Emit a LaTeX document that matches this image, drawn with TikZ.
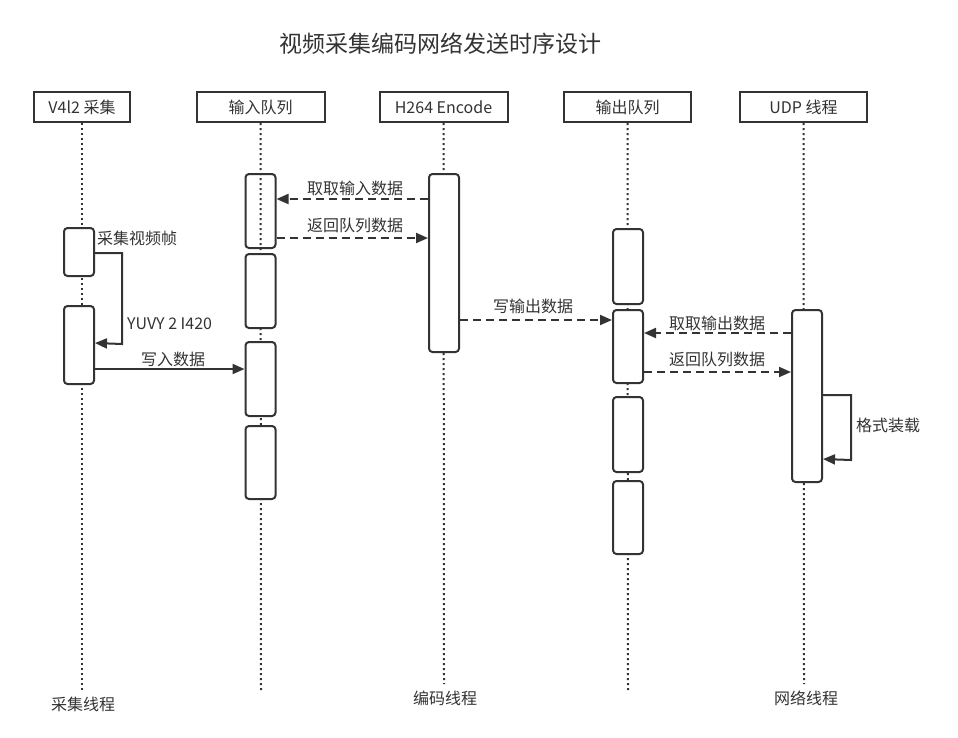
\documentclass[tikz,border=0pt]{standalone}
\usepackage{fontspec}
\setmainfont{Noto Sans CJK SC}
\usetikzlibrary{arrows.meta}
\definecolor{ink}{HTML}{333333}
\begin{document}
\begin{tikzpicture}[x=1pt,y=-1pt,
  every node/.style={text=ink,font=\fontsize{16}{18}\selectfont},
  head/.style={draw=ink,line width=2pt,minimum width=128pt,minimum height=30pt,inner sep=0pt,fill=white},
  act/.style={draw=ink,line width=2pt,rounded corners=3.5pt,minimum width=30pt,inner sep=0pt,fill=white},
  life/.style={draw=ink,line width=2pt,dash pattern=on 2pt off 3pt},
  msg/.style={draw=ink,line width=2pt,-{Triangle[length=12pt,width=10pt]}},
  dmsg/.style={msg,dash pattern=on 8pt off 5pt},
  lbl/.style={inner sep=0pt}]
\useasboundingbox (0,0) rectangle (958,737);
% title
\node[lbl,font=\fontsize{23}{26}\selectfont] (title) at (440,44) {视频采集编码网络发送时序设计};
% lifelines
\coordinate (e1) at (82,690);
\coordinate (e2) at (261,692);
\coordinate (e3) at (444,684);
\coordinate (e4) at (628,692);
\coordinate (e5) at (804,684);
% headers
\node[head,minimum width=96pt] (h1) at (82,107) {V4l2 采集};
\node[head] (h2) at (260.5,107) {输入队列};
\node[head] (h3) at (443.5,107) {H264 Encode};
\node[head,minimum width=127pt] (h4) at (627.5,107) {输出队列};
\node[head,minimum width=127pt] (h5) at (803.5,107) {UDP 线程};
\draw[life] (h1.south) -- (e1);
\draw[life] (h2.south) -- (e2);
\draw[life] (h3.south) -- (e3);
\draw[life] (h4.south) -- (e4);
\draw[life] (h5.south) -- (e5);
% activation boxes
\node[act,minimum height=48pt] (A1) at (79,252) {};
\node[act,minimum height=78pt] (A2) at (79,345) {};
\node[act,minimum height=74pt,fill=none] (B1) at (260.5,211) {};
\node[act,minimum height=74pt] (B2) at (260.5,291) {};
\node[act,minimum height=74pt] (B3) at (260.5,379) {};
\node[act,minimum height=73pt] (B4) at (260.5,462.5) {};
\node[act,minimum height=178pt] (C1) at (444,263) {};
\node[act,minimum height=75pt] (D1) at (628,266.5) {};
\node[act,minimum height=73pt] (D2) at (628,346.5) {};
\node[act,minimum height=75pt] (D3) at (628,434.5) {};
\node[act,minimum height=73pt] (D4) at (628,517.5) {};
\node[act,minimum height=172pt] (E1) at (807,396) {};
% messages
\draw[dmsg] ([yshift=-26pt]C1.north west) -- ([yshift=-26pt]B1.north east);
\node[lbl] (m1) at (355,188) {取取输入数据};
\draw[dmsg] ([yshift=-65pt]B1.north east) -- ([yshift=-65pt]C1.north west);
\node[lbl] (m2) at (355,225) {返回队列数据};
\draw[msg] ([yshift=-26pt]A1.north east) -| (122,344) -- ([yshift=-38pt]A2.north east);
\node[lbl,anchor=west] (m3) at (97,238) {采集视频帧};
\node[lbl,anchor=west] (m4) at (127,324) {YUVY 2 I420};
\draw[msg] ([yshift=-64pt]A2.north east) -- ([yshift=-28pt]B3.north west);
\node[lbl] (m5) at (173,359) {写入数据};
\draw[dmsg] ([yshift=-147pt]C1.north east) -- ([yshift=-11pt]D2.north west);
\node[lbl] (m6) at (533,306) {写输出数据};
\draw[dmsg] ([yshift=-24pt]E1.north west) -- ([yshift=-24pt]D2.north east);
\node[lbl] (m7) at (717,323) {取取输出数据};
\draw[dmsg] ([yshift=-63pt]D2.north east) -- ([yshift=-63pt]E1.north west);
\node[lbl] (m8) at (717,359) {返回队列数据};
\draw[msg] ([yshift=-86pt]E1.north east) -| (851,460) -- ([yshift=-150pt]E1.north east);
\node[lbl,anchor=west] (m9) at (856,425) {格式装载};
% bottom labels
\node[lbl] (t1) at (83,704) {采集线程};
\node[lbl] (t2) at (445,698) {编码线程};
\node[lbl] (t3) at (806,698) {网络线程};
\end{tikzpicture}
\end{document}
